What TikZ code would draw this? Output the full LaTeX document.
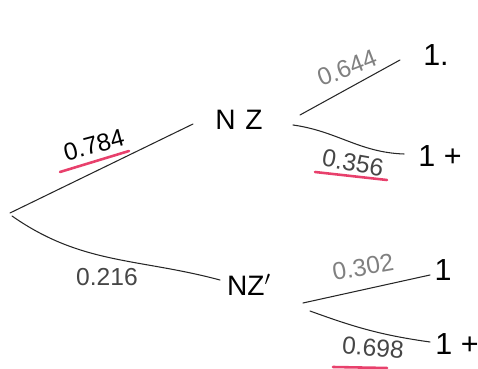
\documentclass[tikz,border=0pt]{standalone}
\usepackage{fontspec}
\setmainfont{Liberation Sans}
\usepackage{xcolor}
\usepackage{tikz}
\usetikzlibrary{positioning}
\definecolor{penred}{RGB}{232,64,108}
\definecolor{pencil}{RGB}{70,70,70}

\begin{document}
\begin{tikzpicture}[x=0.03cm, y=0.03cm,
    branch/.style={line width=0.9pt, draw=black!85, line cap=round},
    prob/.style={font=\fontsize{21}{24}\selectfont, text=pencil, inner sep=1pt},
    state/.style={font=\fontsize{24}{28}\selectfont, inner sep=2pt},
    leaf/.style={font=\fontsize{26}{30}\selectfont, inner sep=1pt},
    redline/.style={draw=penred, line width=2.2pt, line cap=round}]

    \useasboundingbox (0,0) rectangle (478,369);

    % ============ states ============
    \coordinate (root) at (10,156);
    \node[state] (NZ)  at (239,249) {N\hspace{0.35em}Z};
    \node[state] (NZp) at (249,84)  {NZ$'$};

    % ============ outcomes ============
    \node[leaf] (a) at (436,314) {1.};
    \node[leaf] (b) at (440,213) {1 +};
    \node[leaf] (c) at (443,99)  {1};
    \node[leaf] (d) at (457,25)  {1 +};

    % ============ branches ============
    \draw[branch] (root) -- ([shift={(-46,-4)}]NZ.center);
    \draw[branch] ([shift={(2,-3)}]root) to[out=-35,in=165] ([shift={(-29,5)}]NZp.center);
    \draw[branch] ([shift={(61,5)}]NZ.center) -- ([shift={(-36,-5)}]a.center);
    \draw[branch] ([shift={(54,-5)}]NZ.center) to[out=-8,in=178] ([shift={(-36,2)}]b.center);
    \draw[branch] ([shift={(54,-18)}]NZp.center) -- ([shift={(-13,-5)}]c.center);
    \draw[branch] ([shift={(61,-26)}]NZp.center) to[out=-20,in=172] ([shift={(-27,2)}]d.center);

    % ============ probabilities ============
    \node[prob, text=black, rotate=15] (l784) at (94,224) {0.784};
    \node[prob] (l216) at (107,92) {0.216};
    \node[prob, text=gray, rotate=21] (l644) at (347,301) {0.644};
    \node[prob, rotate=-10] (l356) at (353,206) {0.356};
    \node[prob, text=gray, rotate=10] (l302) at (363,102) {0.302};
    \node[prob, rotate=-5] (l698) at (373,21) {0.698};

    % red underlines
    \draw[redline] ([shift={(-34,-27)}]l784.center) -- ([shift={(35,-6)}]l784.center);
    \draw[redline] ([shift={(-38,-9)}]l356.center) -- ([shift={(34,-17)}]l356.center);
    \draw[redline] ([shift={(-40,-19)}]l698.center) -- ([shift={(14,-20)}]l698.center);

\end{tikzpicture}
\end{document}
